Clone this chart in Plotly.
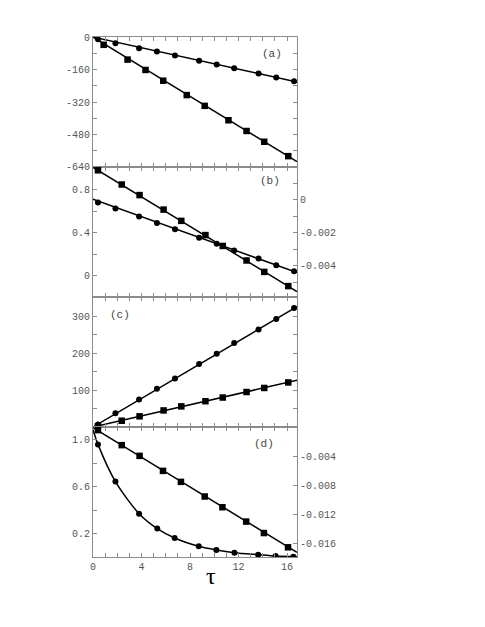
import plotly.graph_objects as go

# ---- data ----
# panel (a)
a_circ_x = [0.41, 1.85, 3.80, 5.27, 6.76, 8.75, 10.2, 11.64, 13.65, 15.11, 16.58]
a_circ_y = [-11, -30, -55, -71, -91, -116, -135, -154, -179, -199, -218]
a_sq_x = [0.88, 2.85, 4.33, 5.79, 7.73, 9.21, 11.17, 12.66, 14.12, 16.1]
a_sq_y = [-38, -111, -162, -215, -286, -339, -410, -463, -516, -587]
a_circ_fit_x, a_circ_fit_y = [0, 16.82], [0, -221]
a_sq_fit_x, a_sq_fit_y = [0, 16.82], [0, -614]

# panel (b): circles on left axis, squares on right axis
b_circ_x = [0.41, 1.85, 3.80, 5.27, 6.76, 8.75, 10.2, 11.64, 13.65, 15.11, 16.58]
b_circ_y = [0.684, 0.628, 0.552, 0.493, 0.434, 0.355, 0.299, 0.237, 0.161, 0.099, 0.043]
b_sq_x = [0.41, 2.37, 3.84, 5.82, 7.28, 9.27, 10.7, 12.66, 14.12, 16.1]
b_sq_y = [0.00178, 0.00092, 0.00028, -0.0006, -0.00128, -0.00214, -0.0028, -0.00368, -0.00437, -0.00523]
b_circ_fit_x, b_circ_fit_y = [0, 16.82], [0.715, 0.03]
b_sq_fit_x, b_sq_fit_y = [0, 16.82], [0.00196, -0.00556]

# panel (c)
c_circ_x = [0.41, 1.85, 3.80, 5.27, 6.76, 8.75, 10.2, 11.64, 13.65, 15.11, 16.58]
c_circ_y = [7, 37, 75, 104, 132, 171, 199, 228, 265, 293, 323]
c_sq_x = [0.41, 2.37, 3.84, 5.82, 7.28, 9.27, 10.7, 12.66, 14.12, 16.1]
c_sq_y = [2, 17, 29, 45, 56, 70, 80, 95, 106, 121]
c_circ_fit_x, c_circ_fit_y = [0, 16.82], [0, 327]
c_sq_fit_x, c_sq_fit_y = [0, 16.82], [0, 127]

# panel (d): circles on left axis, squares on right axis
d_circ_x = [0.41, 1.85, 3.80, 5.30, 6.73, 8.72, 10.17, 11.66, 13.62, 15.06, 16.52]
d_circ_y = [0.959, 0.642, 0.369, 0.242, 0.162, 0.091, 0.060, 0.037, 0.020, 0.0085, 0.003]
d_sq_x = [0.41, 2.37, 3.84, 5.77, 7.25, 9.21, 10.67, 12.63, 14.09, 16.08]
d_sq_y = [-0.00043, -0.00249, -0.00396, -0.00602, -0.00753, -0.00954, -0.01101, -0.01298, -0.01455, -0.01651]
d_circ_fit_x = [0, 0.41, 1.85, 3.80, 5.30, 6.73, 8.72, 10.17, 11.66, 13.62, 15.06, 16.82]
d_circ_fit_y = [1.084, 0.959, 0.642, 0.369, 0.242, 0.162, 0.091, 0.060, 0.037, 0.020, 0.0085, 0.003]
d_sq_fit_x = [0, 16.82]
d_sq_fit_y = [-0.0001, -0.0172]

panel_labels = ["(a)", "(b)", "(c)", "(d)"]
label_pos = [(14.75, -81), (14.6, 0.884), (2.2, 304), (14.06, 0.959)]

frame = "#8c8c8c"
mono = "Liberation Mono, Courier New, monospace"
tickfont = dict(family=mono, size=10, color="#555555")

fig = go.Figure()


def add(x, y, xa, ya, symbol=None, fit=False, smooth=False):
    if fit:
        fig.add_trace(go.Scatter(x=x, y=y, xaxis=xa, yaxis=ya, mode="lines",
                                 line=dict(color="black", width=1.5,
                                           shape="spline" if smooth else "linear", smoothing=0.8),
                                 showlegend=False, hoverinfo="skip"))
    else:
        fig.add_trace(go.Scatter(x=x, y=y, xaxis=xa, yaxis=ya, mode="markers",
                                 marker=dict(symbol=symbol, size=6 if symbol == "circle" else 6.5,
                                             color="black"),
                                 showlegend=False))


add(a_circ_fit_x, a_circ_fit_y, "x", "y", fit=True)
add(a_sq_fit_x, a_sq_fit_y, "x", "y", fit=True)
add(a_circ_x, a_circ_y, "x", "y", "circle")
add(a_sq_x, a_sq_y, "x", "y", "square")

add(b_circ_fit_x, b_circ_fit_y, "x2", "y2", fit=True)
add(b_sq_fit_x, b_sq_fit_y, "x2", "y5", fit=True)
add(b_circ_x, b_circ_y, "x2", "y2", "circle")
add(b_sq_x, b_sq_y, "x2", "y5", "square")

add(c_circ_fit_x, c_circ_fit_y, "x3", "y3", fit=True)
add(c_sq_fit_x, c_sq_fit_y, "x3", "y3", fit=True)
add(c_circ_x, c_circ_y, "x3", "y3", "circle")
add(c_sq_x, c_sq_y, "x3", "y3", "square")

add(d_circ_fit_x, d_circ_fit_y, "x4", "y4", fit=True, smooth=True)
add(d_sq_fit_x, d_sq_fit_y, "x4", "y6", fit=True)
add(d_circ_x, d_circ_y, "x4", "y4", "circle")
add(d_sq_x, d_sq_y, "x4", "y6", "square")

domains = [[0.75, 1.0], [0.5, 0.75], [0.25, 0.5], [0.0, 0.25]]
xr = [0, 16.82]

xbase = dict(range=xr, showline=True, linecolor=frame, linewidth=1, mirror="allticks",
             ticks="inside", ticklen=4, tickcolor=frame, tickvals=[0, 4, 8, 12, 16],
             minor=dict(dtick=1, ticks="inside", ticklen=4, tickcolor=frame),
             showgrid=False, zeroline=False, tickfont=tickfont, automargin=False)
ybase = dict(showline=True, linecolor=frame, linewidth=1, ticks="inside", ticklen=4,
             tickcolor=frame, showgrid=False, zeroline=False, tickfont=tickfont, automargin=False)

layout = {}
for i in range(4):
    k = "" if i == 0 else str(i + 1)
    layout["xaxis" + k] = dict(xbase, anchor="y" + k, showticklabels=(i == 3))

layout["yaxis"] = dict(ybase, domain=domains[0], anchor="x", range=[-640.5, 0.5], mirror="allticks",
                       tickvals=[0, -160, -320, -480, -640],
                       ticktext=["0", "-160", "-320", "-480", "-640"],
                       minor=dict(tickvals=[-80, -240, -400, -560], ticks="inside", ticklen=4, tickcolor=frame))
layout["yaxis2"] = dict(ybase, domain=domains[1], anchor="x2", range=[-0.197, 1.014],
                        tickvals=[0, 0.4, 0.8], ticktext=["0", "0.4", "0.8"],
                        minor=dict(tickvals=[0.2, 0.6], ticks="inside", ticklen=4, tickcolor=frame))
layout["yaxis3"] = dict(ybase, domain=domains[2], anchor="x3", range=[0, 353], mirror="allticks",
                        tickvals=[100, 200, 300],
                        minor=dict(tickvals=[50, 150, 250], ticks="inside", ticklen=4, tickcolor=frame))
layout["yaxis4"] = dict(ybase, domain=domains[3], anchor="x4", range=[0, 1.107],
                        tickvals=[0.2, 0.6, 1.0], ticktext=["0.2", "0.6", "1.0"],
                        minor=dict(tickvals=[0.4, 0.8], ticks="inside", ticklen=4, tickcolor=frame))
layout["yaxis5"] = dict(ybase, overlaying="y2", side="right", anchor="x2", range=[-0.00589, 0.00198],
                        tickvals=[0, -0.002, -0.004], ticktext=["0", "-0.002", "-0.004"],
                        minor=dict(tickvals=[0.001, -0.001, -0.003, -0.005], ticks="inside",
                                   ticklen=4, tickcolor=frame))
layout["yaxis6"] = dict(ybase, overlaying="y4", side="right", anchor="x4", range=[-0.01784, 0.0],
                        tickvals=[-0.004, -0.008, -0.012, -0.016],
                        ticktext=["-0.004", "-0.008", "-0.012", "-0.016"])

annotations = []
for i, (lab, (lx, ly)) in enumerate(zip(panel_labels, label_pos)):
    k = "" if i == 0 else str(i + 1)
    annotations.append(dict(x=lx, y=ly, xref="x" + k, yref="y" + k, text=lab, showarrow=False,
                            font=dict(family=mono, size=11, color="#444444")))
annotations.append(dict(x=0.58, y=-0.036, xref="paper", yref="paper", text="τ", showarrow=False,
                        yanchor="middle",
                        font=dict(family="Liberation Serif, Times New Roman, serif", size=24,
                                  color="black")))

# the page body adds an 8px offset, so the margins are pulled in to compensate
fig.update_layout(width=485, height=627, margin=dict(l=85, r=196, t=29, b=78, autoexpand=False),
                  plot_bgcolor="white", paper_bgcolor="white", annotations=annotations,
                  **layout)

fig.write_html("out.html")
